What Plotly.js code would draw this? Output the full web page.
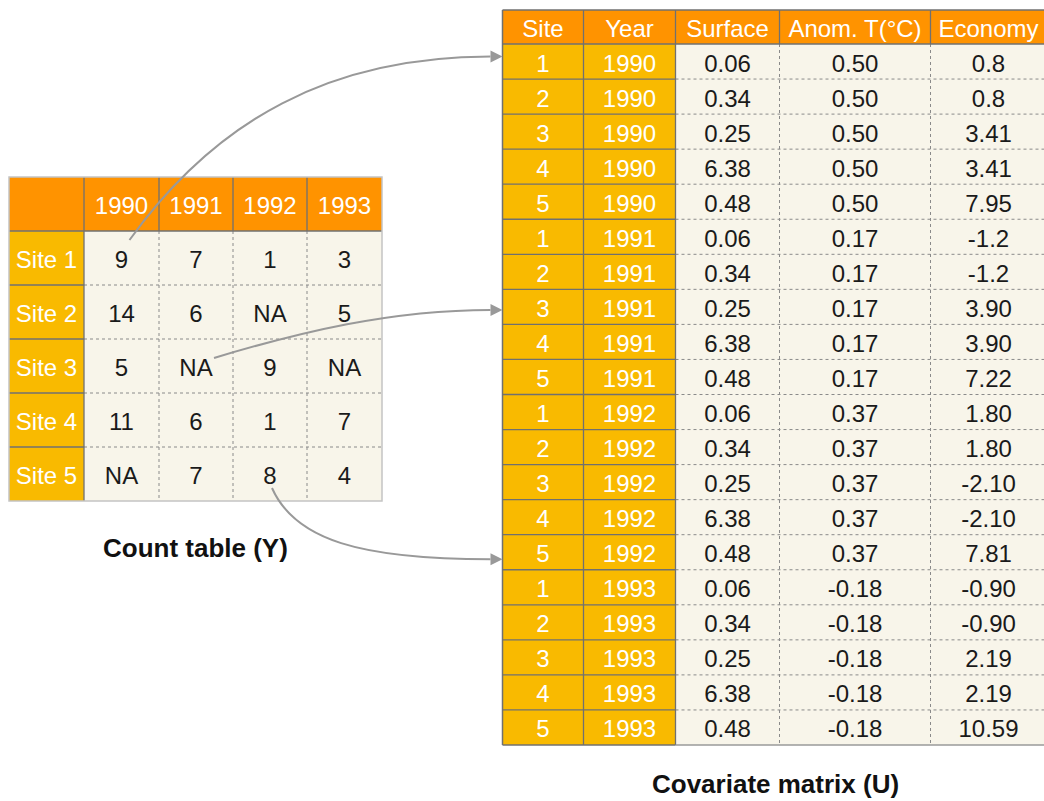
<!DOCTYPE html>
<html>
<head>
<meta charset="utf-8">
<script src="https://cdn.plot.ly/plotly-3.0.1.min.js"></script>
<style>body{margin:0;background:#fff}</style>
</head>
<body>
<div id="chart" style="width:1044px;height:801px"></div>
<script>
// count table (Y): rows are sites, columns are years, null = NA
var years = ['1990', '1991', '1992', '1993'];
var siteNames = ['Site 1', 'Site 2', 'Site 3', 'Site 4', 'Site 5'];
var counts = [
  [9, 7, 1, 3],
  [14, 6, null, 5],
  [5, null, 9, null],
  [11, 6, 1, 7],
  [null, 7, 8, 4]
];

// covariate matrix (U)
var covHeader = ['Site', 'Year', 'Surface', 'Anom. T(°C)', 'Economy'];
var covSite = [1, 2, 3, 4, 5, 1, 2, 3, 4, 5, 1, 2, 3, 4, 5, 1, 2, 3, 4, 5];
var covYear = [1990, 1990, 1990, 1990, 1990, 1991, 1991, 1991, 1991, 1991,
               1992, 1992, 1992, 1992, 1992, 1993, 1993, 1993, 1993, 1993];
var surface = [0.06, 0.34, 0.25, 6.38, 0.48, 0.06, 0.34, 0.25, 6.38, 0.48,
               0.06, 0.34, 0.25, 6.38, 0.48, 0.06, 0.34, 0.25, 6.38, 0.48];
var anomT = [0.50, 0.50, 0.50, 0.50, 0.50, 0.17, 0.17, 0.17, 0.17, 0.17,
             0.37, 0.37, 0.37, 0.37, 0.37, -0.18, -0.18, -0.18, -0.18, -0.18];
var economy = ['0.8', '0.8', '3.41', '3.41', '7.95', '-1.2', '-1.2', '3.90', '3.90', '7.22',
               '1.80', '1.80', '-2.10', '-2.10', '7.81', '-0.90', '-0.90', '2.19', '2.19', '10.59'];

// links from a cell of Y [site row, year col] to a row of U
var links = [[0, 0, 0], [2, 1, 7], [4, 2, 14]];

// ---- geometry (pixel units, y axis reversed) ----
var ORANGE = '#ff9300', YELLOW = '#f9ba00', CREAM = '#f8f5ea';
var DARK = '#707070', LIGHT = '#c4c4c4', DOT = '#8a8a8a', ARROW = '#999999';
var FONT = 'Liberation Sans, Arial, Helvetica, sans-serif';
var TEXT_DY = 4; // the source sets its text a little below the cell middle

function edges(start, sizes) {
  var e = [start];
  sizes.forEach(function (s) { e.push(e[e.length - 1] + s); });
  return e;
}
function mids(e) {
  var m = [];
  for (var i = 0; i < e.length - 1; i++) m.push((e[i] + e[i + 1]) / 2);
  return m;
}
function repeat(v, n) { var a = []; for (var i = 0; i < n; i++) a.push(v); return a; }

var yx = edges(9, [75, 75, 74, 74, 75]);
var yy = edges(177, [54].concat(repeat(54, siteNames.length)));
var ux = edges(502.5, [81, 92, 104, 151, 116]);
var uy = edges(10, [34].concat(repeat(35.05, covSite.length)));
var yxm = mids(yx), yym = mids(yy), uxm = mids(ux), uym = mids(uy);

var shapes = [];
function rect(x0, y0, x1, y1, fill) {
  shapes.push({type: 'rect', xref: 'x', yref: 'y', x0: x0, y0: y0, x1: x1, y1: y1,
    fillcolor: fill, line: {width: 0}, layer: 'below'});
}
function line(x0, y0, x1, y1, color, dash, w) {
  shapes.push({type: 'line', xref: 'x', yref: 'y', x0: x0, y0: y0, x1: x1, y1: y1,
    line: {color: color, width: w || 1.3, dash: dash || 'solid'}});
}

// count table fills
rect(yx[0], yy[0], yx[5], yy[1], ORANGE);
rect(yx[0], yy[1], yx[1], yy[6], YELLOW);
rect(yx[1], yy[1], yx[5], yy[6], CREAM);
// count table lines
for (var i = 2; i < 6; i++) line(yx[1], yy[i], yx[5], yy[i], DOT, 'dot', 1);
for (var j = 2; j < 5; j++) line(yx[j], yy[1], yx[j], yy[6], DOT, 'dot', 1);
for (var i = 2; i < 6; i++) line(yx[0], yy[i], yx[1], yy[i], DARK);
for (var j = 1; j < 5; j++) line(yx[j], yy[0], yx[j], yy[1], DARK);
line(yx[1], yy[1], yx[1], yy[6], DARK);
line(yx[0], yy[1], yx[5], yy[1], DARK, 'solid', 1.5);
shapes.push({type: 'rect', xref: 'x', yref: 'y', x0: yx[0], y0: yy[0], x1: yx[5], y1: yy[6],
  line: {color: LIGHT, width: 1.5}});

// covariate matrix fills
var nU = covSite.length;
rect(ux[0], uy[0], ux[5], uy[1], ORANGE);
rect(ux[0], uy[1], ux[2], uy[nU + 1], YELLOW);
rect(ux[2], uy[1], ux[5], uy[nU + 1], CREAM);
// covariate matrix lines
for (var i = 2; i <= nU; i++) line(ux[2], uy[i], ux[5], uy[i], DOT, 'dot', 1);
for (var j = 3; j < 5; j++) line(ux[j], uy[1], ux[j], uy[nU + 1], DOT, 'dot', 1);
for (var i = 2; i <= nU; i++) line(ux[0], uy[i], ux[2], uy[i], DARK);
for (var j = 1; j < 5; j++) line(ux[j], uy[0], ux[j], uy[1], DARK);
line(ux[1], uy[1], ux[1], uy[nU + 1], DARK);
line(ux[2], uy[1], ux[2], uy[nU + 1], DARK);
line(ux[0], uy[1], ux[5], uy[1], DARK, 'solid', 1.5);
line(ux[2], uy[nU + 1], ux[5], uy[nU + 1], '#9a9a9a', 'solid', 1.5);
line(ux[0], uy[nU + 1], ux[2], uy[nU + 1], DARK, 'solid', 1.5);
line(ux[0], uy[0], ux[0], uy[nU + 1], DARK, 'solid', 1.5);
line(ux[0], uy[0], ux[5], uy[0], DARK, 'solid', 1.5);

// curved connectors: start offset from the cell centre, bezier handles, end offset
var starts = [[8, -18], [18, -8], [2, 14]];
var handles = [[[86, -120], [-160, 0]], [[86, -26], [-100, 0]], [[23, 52], [-130, 0]]];
var endDy = [-5, 3, 7];
var annotations = [];
links.forEach(function (l, k) {
  var sx = yxm[l[1] + 1] + starts[k][0], sy = yym[l[0] + 1] + starts[k][1];
  var tx = ux[0], ty = uym[l[2] + 1] + endDy[k], ex = tx - 12;
  var h = handles[k];
  shapes.push({type: 'path', xref: 'x', yref: 'y', line: {color: ARROW, width: 2},
    path: 'M' + sx + ',' + sy + ' C' + (sx + h[0][0]) + ',' + (sy + h[0][1]) + ' ' +
      (ex + h[1][0]) + ',' + (ty + h[1][1]) + ' ' + ex + ',' + ty});
  annotations.push({x: tx, y: ty, xref: 'x', yref: 'y', ax: -13, ay: 0, text: '',
    showarrow: true, arrowhead: 2, arrowsize: 1.2, arrowwidth: 2, arrowcolor: ARROW, standoff: 0});
});

// titles
annotations.push({x: (yx[0] + yx[5]) / 2, y: 548, xref: 'x', yref: 'y', showarrow: false,
  text: '<b>Count table (Y)</b>', font: {family: FONT, size: 26, color: '#111'}});
annotations.push({x: 775, y: 784, xref: 'x', yref: 'y', showarrow: false,
  text: '<b>Covariate matrix (U)</b>', font: {family: FONT, size: 26, color: '#111'}});

// ---- text traces ----
function textTrace(x, y, text, color, size) {
  return {type: 'scatter', mode: 'text', x: x,
    y: y.map(function (v) { return v + TEXT_DY; }), text: text, cliponaxis: false,
    textposition: 'middle center', hoverinfo: 'skip',
    textfont: {family: FONT, size: size, color: color}};
}

var data = [];
// count table header and labels
data.push(textTrace(yxm.slice(1), repeat(yym[0], years.length), years, '#fff', 24));
data.push(textTrace(repeat(yxm[0], siteNames.length), yym.slice(1), siteNames, '#fff', 24));
// count values
var cx = [], cy = [], ct = [];
counts.forEach(function (row, r) {
  row.forEach(function (v, c) {
    cx.push(yxm[c + 1]); cy.push(yym[r + 1]); ct.push(v === null ? 'NA' : String(v));
  });
});
data.push(textTrace(cx, cy, ct, '#1a1a1a', 24));

// covariate header
data.push(textTrace(uxm, repeat(uym[0], covHeader.length), covHeader, '#fff', 24));
var rowY = uym.slice(1);
data.push(textTrace(repeat(uxm[0], nU), rowY, covSite.map(String), '#fff', 24));
data.push(textTrace(repeat(uxm[1], nU), rowY, covYear.map(String), '#fff', 24));
data.push(textTrace(repeat(uxm[2], nU), rowY, surface.map(function (v) { return v.toFixed(2); }), '#1a1a1a', 24));
data.push(textTrace(repeat(uxm[3], nU), rowY, anomT.map(function (v) { return v.toFixed(2); }), '#1a1a1a', 24));
data.push(textTrace(repeat(uxm[4], nU), rowY, economy, '#1a1a1a', 24));

var layout = {
  width: 1044, height: 801,
  margin: {l: 0, r: 0, t: 0, b: 0},
  paper_bgcolor: '#fff', plot_bgcolor: '#fff',
  showlegend: false,
  xaxis: {range: [0, 1044], visible: false, fixedrange: true},
  yaxis: {range: [801, 0], visible: false, fixedrange: true},
  shapes: shapes,
  annotations: annotations
};

Plotly.newPlot('chart', data, layout, {displayModeBar: false, staticPlot: true});
</script>
</body>
</html>
